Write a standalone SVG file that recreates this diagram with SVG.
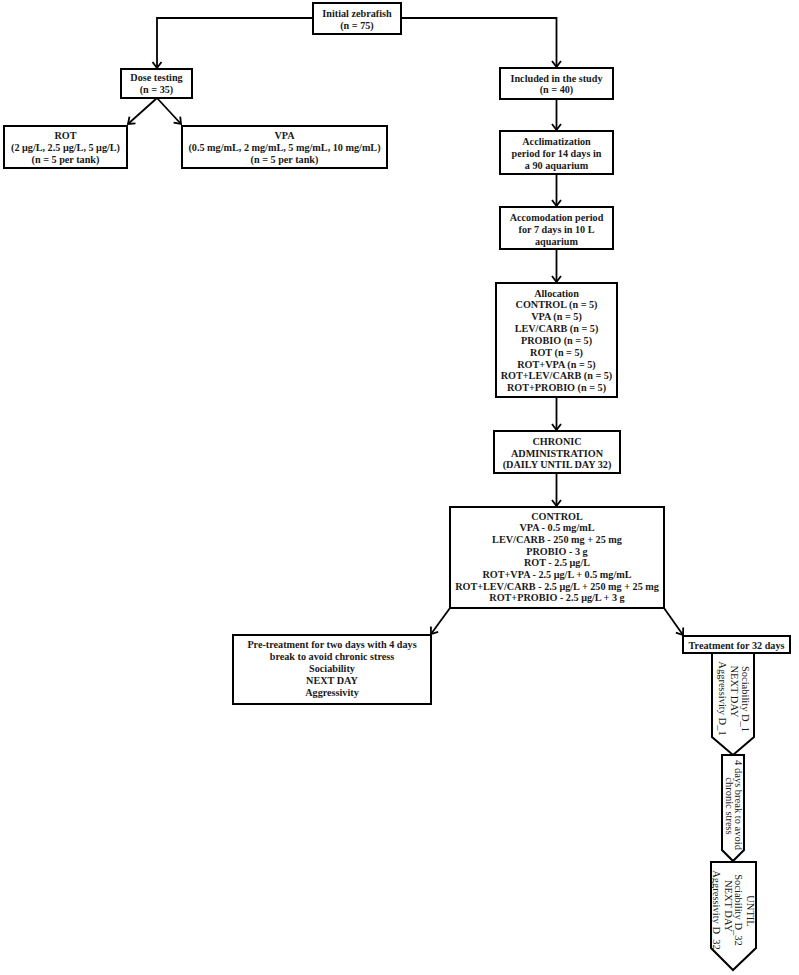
<svg xmlns="http://www.w3.org/2000/svg" width="799" height="975" viewBox="0 0 799 975">
<defs>
<style>
.box{fill:#fff;stroke:#000;stroke-width:2}
.t{font-family:"Liberation Serif","Times New Roman",serif;font-size:10.2px;font-weight:bold;fill:#1a1a1a;text-anchor:middle}
.v{font-family:"Liberation Serif","Times New Roman",serif;font-size:10.5px;fill:#1a1a1a;text-anchor:middle;dominant-baseline:central}
.c{fill:none;stroke:#000;stroke-width:1.8}
</style>
<marker id="ah" markerUnits="userSpaceOnUse" markerWidth="12" markerHeight="12" refX="9" refY="6" orient="auto">
<path d="M3,1.5 L9,6 L3,10.5" fill="none" stroke="#000" stroke-width="1.8"/>
</marker>
</defs>
<rect width="799" height="975" fill="#fff"/>
<g id="connectors">
<path class="c" d="M313,18 H157 V68" marker-end="url(#ah)"/>
<path class="c" d="M401,18 H556.5 V67" marker-end="url(#ah)"/>
<path class="c" d="M157,98 L128,124" marker-end="url(#ah)"/>
<path class="c" d="M157,98 L181,124" marker-end="url(#ah)"/>
<path class="c" d="M556.5,99 V130" marker-end="url(#ah)"/>
<path class="c" d="M556.5,174 V206" marker-end="url(#ah)"/>
<path class="c" d="M556.5,249 V282" marker-end="url(#ah)"/>
<path class="c" d="M556.5,397 V430" marker-end="url(#ah)"/>
<path class="c" d="M556.5,473 V506" marker-end="url(#ah)"/>
<path class="c" d="M450,608 L431,634" marker-end="url(#ah)"/>
<path class="c" d="M664,608 L683,635" marker-end="url(#ah)"/>
</g>
<g id="initial">
<rect class="box" x="313" y="3" width="88" height="31"/>
<text class="t" x="357" y="17">Initial zebrafish</text>
<text class="t" x="357" y="28.5">(n = 75)</text>
</g>
<g id="dose">
<rect class="box" x="121" y="69" width="71" height="29"/>
<text class="t" x="156.5" y="80.5">Dose testing</text>
<text class="t" x="156.5" y="92.5">(n = 35)</text>
</g>
<g id="rot">
<rect class="box" x="4" y="126" width="123" height="42"/>
<text class="t" x="65.5" y="138.5">ROT</text>
<text class="t" x="65.5" y="150.5">(2 μg/L, 2.5 μg/L, 5 μg/L)</text>
<text class="t" x="65.5" y="162.5">(n = 5 per tank)</text>
</g>
<g id="vpa">
<rect class="box" x="182" y="126" width="205" height="42"/>
<text class="t" x="284.5" y="138.5">VPA</text>
<text class="t" x="284.5" y="150.5">(0.5 mg/mL, 2 mg/mL, 5 mg/mL, 10 mg/mL)</text>
<text class="t" x="284.5" y="162.5">(n = 5 per tank)</text>
</g>
<g id="included">
<rect class="box" x="500" y="68" width="113" height="31"/>
<text class="t" x="556.5" y="81.5">Included in the study</text>
<text class="t" x="556.5" y="92.5">(n = 40)</text>
</g>
<g id="acclim">
<rect class="box" x="500" y="131" width="113" height="43"/>
<text class="t" x="556.5" y="144.5">Acclimatization</text>
<text class="t" x="556.5" y="156.5">period for 14 days in</text>
<text class="t" x="556.5" y="168.5">a 90 aquarium</text>
</g>
<g id="accom">
<rect class="box" x="500" y="207" width="113" height="42"/>
<text class="t" x="556.5" y="220.5">Accomodation period</text>
<text class="t" x="556.5" y="232.5">for 7 days in 10 L</text>
<text class="t" x="556.5" y="244.5">aquarium</text>
</g>
<g id="allocation">
<rect class="box" x="496" y="283" width="121" height="114"/>
<text class="t" x="556.5" y="296.5">Allocation</text>
<text class="t" x="556.5" y="308.3">CONTROL (n = 5)</text>
<text class="t" x="556.5" y="320.1">VPA  (n = 5)</text>
<text class="t" x="556.5" y="332">LEV/CARB (n = 5)</text>
<text class="t" x="556.5" y="343.8">PROBIO (n = 5)</text>
<text class="t" x="556.5" y="355.7">ROT (n = 5)</text>
<text class="t" x="556.5" y="367.5">ROT+VPA (n = 5)</text>
<text class="t" x="556.5" y="379.4">ROT+LEV/CARB (n = 5)</text>
<text class="t" x="556.5" y="391.2">ROT+PROBIO (n = 5)</text>
</g>
<g id="chronic">
<rect class="box" x="494" y="431" width="126" height="42"/>
<text class="t" x="557" y="444.5">CHRONIC</text>
<text class="t" x="557" y="456.5">ADMINISTRATION</text>
<text class="t" x="557" y="467.5">(DAILY UNTIL DAY 32)</text>
</g>
<g id="control">
<rect class="box" x="450" y="507" width="214" height="101"/>
<text class="t" x="557" y="519.5">CONTROL</text>
<text class="t" x="557" y="531.2">VPA - 0.5 mg/mL</text>
<text class="t" x="557" y="542.9">LEV/CARB - 250 mg + 25 mg</text>
<text class="t" x="557" y="554.6">PROBIO - 3 g</text>
<text class="t" x="557" y="566.3">ROT - 2.5 μg/L</text>
<text class="t" x="557" y="578">ROT+VPA - 2.5 μg/L + 0.5 mg/mL</text>
<text class="t" x="557" y="589.7">ROT+LEV/CARB - 2.5 μg/L + 250 mg + 25 mg</text>
<text class="t" x="557" y="601.4">ROT+PROBIO - 2.5 μg/L + 3 g</text>
</g>
<g id="pretreatment">
<rect class="box" x="233" y="635" width="198" height="69"/>
<text class="t" x="332" y="648">Pre-treatment for two days with 4 days</text>
<text class="t" x="332" y="660">break to avoid chronic stress</text>
<text class="t" x="332" y="672">Sociability</text>
<text class="t" x="332" y="684">NEXT DAY</text>
<text class="t" x="332" y="696">Aggressivity</text>
</g>
<g id="treatment">
<rect class="box" x="683" y="636" width="107" height="17"/>
<text class="t" x="736.5" y="648.5">Treatment for 32 days</text>
</g>
<g id="tests-d1">
<polygon class="box" points="712,653 754,653 754,737 733,755 712,737"/>
<text class="v" x="745" y="699" transform="rotate(90 745 699)">Sociability D_1</text>
<text class="v" x="734" y="691.5" transform="rotate(90 734 691.5)">NEXT DAY</text>
<text class="v" x="722.5" y="698.5" transform="rotate(90 722.5 698.5)">Aggressivity D_1</text>
</g>
<g id="break">
<polygon class="box" points="722,755 744,755 744,850 733,861 722,850"/>
<text class="v" x="738.5" y="805" transform="rotate(90 738.5 805)">4 days break to avoid</text>
<text class="v" x="729" y="806" transform="rotate(90 729 806)">chronic stress</text>
</g>
<g id="tests-d32">
<polygon class="box" points="711,862 756,862 756,948 733,970 711,948"/>
<text class="v" x="750" y="911" transform="rotate(90 750 911)">UNTIL</text>
<text class="v" x="738.5" y="910" transform="rotate(90 738.5 910)">Sociability D_32</text>
<text class="v" x="728" y="906" transform="rotate(90 728 906)">NEXT DAY</text>
<text class="v" x="716.5" y="910" transform="rotate(90 716.5 910)">Aggressivity D_32</text>
</g>
</svg>
